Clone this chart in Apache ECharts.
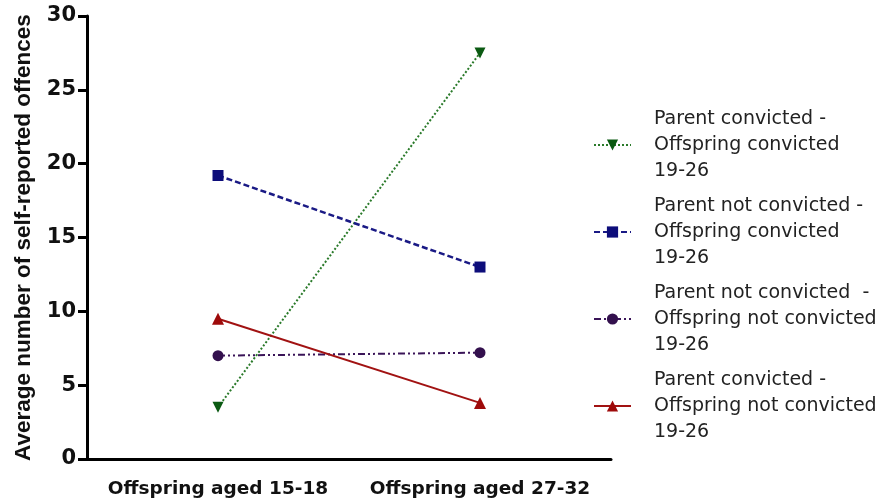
<!DOCTYPE html>
<html>
<head>
<meta charset="utf-8">
<script src="https://cdn.jsdelivr.net/npm/echarts@6/dist/echarts.min.js"></script>
<style>
  html, body { margin: 0; padding: 0; background: #fff; }
  #chart { width: 884px; height: 504px; }
</style>
</head>
<body>
<div id="chart"></div>
<script>
// categories and values
var categories = ['Offspring aged 15-18', 'Offspring aged 27-32']
var parentConvOffConv = [3.5, 27.5]
var parentNotConvOffConv = [19.2, 13.0]
var parentNotConvOffNotConv = [7.0, 7.2]
var parentConvOffNotConv = [9.5, 3.8]
var seriesNames = [
  'Parent convicted -\nOffspring convicted\n19-26',
  'Parent not convicted -\nOffspring convicted\n19-26',
  'Parent not convicted  -\nOffspring not convicted\n19-26',
  'Parent convicted -\nOffspring not convicted\n19-26'
]

var wideFont = "'DejaVu Sans', sans-serif"
var font = "'Liberation Sans', Arial, sans-serif"
var myChart = echarts.init(document.getElementById('chart'))

var option = {
  animation: false,
  backgroundColor: '#fff',
  grid: { left: 87, right: 273, top: 16, bottom: 45 },
  legend: {
    orient: 'vertical',
    left: 588,
    top: 101,
    itemWidth: 37,
    itemHeight: 14,
    itemGap: 9,
    data: seriesNames,
    textStyle: {
      fontFamily: wideFont,
      fontSize: 19,
      lineHeight: 26,
      color: '#222',
      padding: [0, 0, 0, 18]
    }
  },
  xAxis: {
    type: 'category',
    data: categories,
    boundaryGap: true,
    axisLine: { lineStyle: { color: '#000', width: 3 } },
    axisTick: { show: false },
    axisLabel: {
      interval: 0,
      fontFamily: wideFont,
      fontSize: 18.5,
      fontWeight: 'bold',
      color: '#111',
      margin: 21
    }
  },
  yAxis: {
    type: 'value',
    min: 0,
    max: 30,
    interval: 5,
    name: 'Average number of self-reported offences',
    nameLocation: 'middle',
    nameGap: 52,
    nameTextStyle: {
      fontFamily: font,
      fontSize: 22.5,
      fontWeight: 'bold',
      color: '#111'
    },
    splitLine: { show: false },
    axisLine: { show: true, lineStyle: { color: '#000', width: 3 } },
    axisTick: { show: true, length: 9, lineStyle: { width: 3, color: '#000' } },
    axisLabel: {
      fontFamily: wideFont,
      fontSize: 21,
      fontWeight: 'bold',
      color: '#111',
      margin: 11
    }
  },
  series: [
    {
      name: seriesNames[0],
      type: 'line',
      data: parentConvOffConv,
      symbol: 'triangle',
      symbolRotate: 180,
      symbolSize: 11,
      itemStyle: { color: '#0b5a12' },
      lineStyle: { color: '#2a7a2a', width: 2, type: [2, 2] }
    },
    {
      name: seriesNames[1],
      type: 'line',
      data: parentNotConvOffConv,
      symbol: 'rect',
      symbolSize: 11,
      itemStyle: { color: '#0d0d7a' },
      lineStyle: { color: '#1a1a85', width: 2.5, type: [6, 3] }
    },
    {
      name: seriesNames[2],
      type: 'line',
      data: parentNotConvOffNotConv,
      symbol: 'circle',
      symbolSize: 11,
      itemStyle: { color: '#33104d' },
      lineStyle: { color: '#3a1458', width: 2, type: [7, 3, 2, 3, 2, 3] }
    },
    {
      name: seriesNames[3],
      type: 'line',
      data: parentConvOffNotConv,
      symbol: 'triangle',
      symbolSize: 12,
      itemStyle: { color: '#9e0a0a' },
      lineStyle: { color: '#a11212', width: 2, type: 'solid' }
    }
  ]
}

myChart.setOption(option)
</script>
</body>
</html>
